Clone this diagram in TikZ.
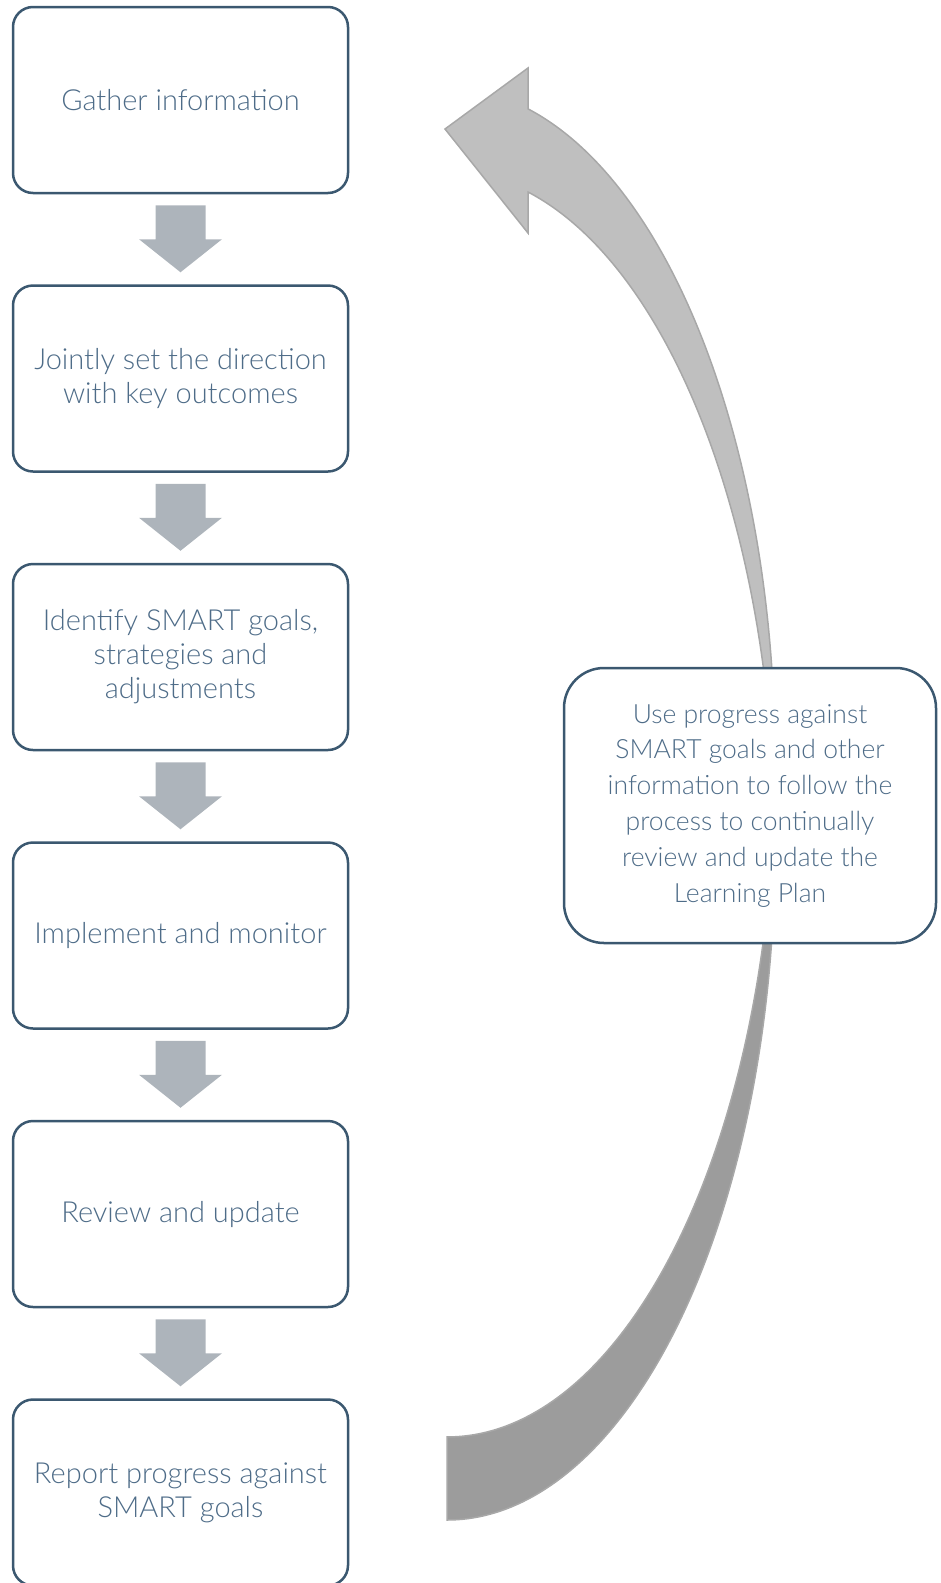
\documentclass[tikz,border=0pt]{standalone}
\usepackage{fontspec}
\setmainfont{Lato}[UprightFont=* Light]
\usepackage{tikz}

\definecolor{boxline}{HTML}{3B5870}
\definecolor{boxtext}{HTML}{4E6C88}
\definecolor{stepgray}{HTML}{ADB4BB}
\definecolor{loopup}{HTML}{BFBFBF}
\definecolor{loopdown}{HTML}{9C9C9C}
\definecolor{loopedge}{HTML}{A8A8A8}

\tikzset{
  stage/.style={draw=boxline, line width=2.5pt, rounded corners=20pt, fill=white,
    minimum width=335pt, minimum height=186pt, align=center, text=boxtext,
    font=\fontsize{29}{34}\selectfont},
  note/.style={stage, rounded corners=40pt, minimum width=372pt, minimum height=275pt,
    font=\fontsize{26.5}{35.8}\selectfont},
  band/.style={draw=loopedge, line width=1.5pt, line join=miter},
  % fat block arrow from the bottom of one stage to the top of the next
  flow/.style={fill=stepgray, to path={
    ([xshift=-25pt,yshift=-11pt]\tikztostart.south) -- ([xshift=25pt,yshift=-11pt]\tikztostart.south)
    -- ([xshift=25pt,yshift=45pt]\tikztotarget.north) -- ([xshift=41.5pt,yshift=45pt]\tikztotarget.north)
    -- ([yshift=12pt]\tikztotarget.north)
    -- ([xshift=-41.5pt,yshift=45pt]\tikztotarget.north) -- ([xshift=-25pt,yshift=45pt]\tikztotarget.north)
    -- cycle}}
}

\begin{document}
\begin{tikzpicture}[x=1pt, y=-1pt]
		\useasboundingbox (0,0) rectangle (941,1583);
		% return arrow: two equal ellipses shifted by the band width, crossing behind the note
		\filldraw[band, fill=loopdown] (447,1520) arc[start angle=90, end angle=-3.53, x radius=328, y radius=674.5]
			arc[start angle=3.53, end angle=90, x radius=328, y radius=674.5] -- cycle;
		\filldraw[band, fill=loopup] (774.4,804) arc[start angle=3.53, end angle=-75.7, x radius=328, y radius=674.5]
			-- (528,68) -- (445,129) -- (528,233) -- (528,192)
			arc[start angle=-75.7, end angle=-3.53, x radius=328, y radius=674.5] -- cycle;

		\node[stage] (gather) at (180.5,100) {Gather information};
		\node[stage] (direction) at (180.5,378.5) {Jointly set the direction\\with key outcomes};
		\node[stage] (goals) at (180.5,657) {Identify SMART goals,\\strategies and\\adjustments};
		\node[stage] (implement) at (180.5,935.5) {Implement and monitor};
		\node[stage] (review) at (180.5,1214) {Review and update};
		\node[stage] (report) at (180.5,1492.5) {Report progress against\\SMART goals};
		\node[note] (cycle) at (750,805.5) {Use progress against\\SMART goals and other\\information to follow the\\process to continually\\review and update the\\Learning Plan};

		\path[flow] (gather) to (direction);
		\path[flow] (direction) to (goals);
		\path[flow] (goals) to (implement);
		\path[flow] (implement) to (review);
		\path[flow] (review) to (report);
	\end{tikzpicture}
\end{document}
